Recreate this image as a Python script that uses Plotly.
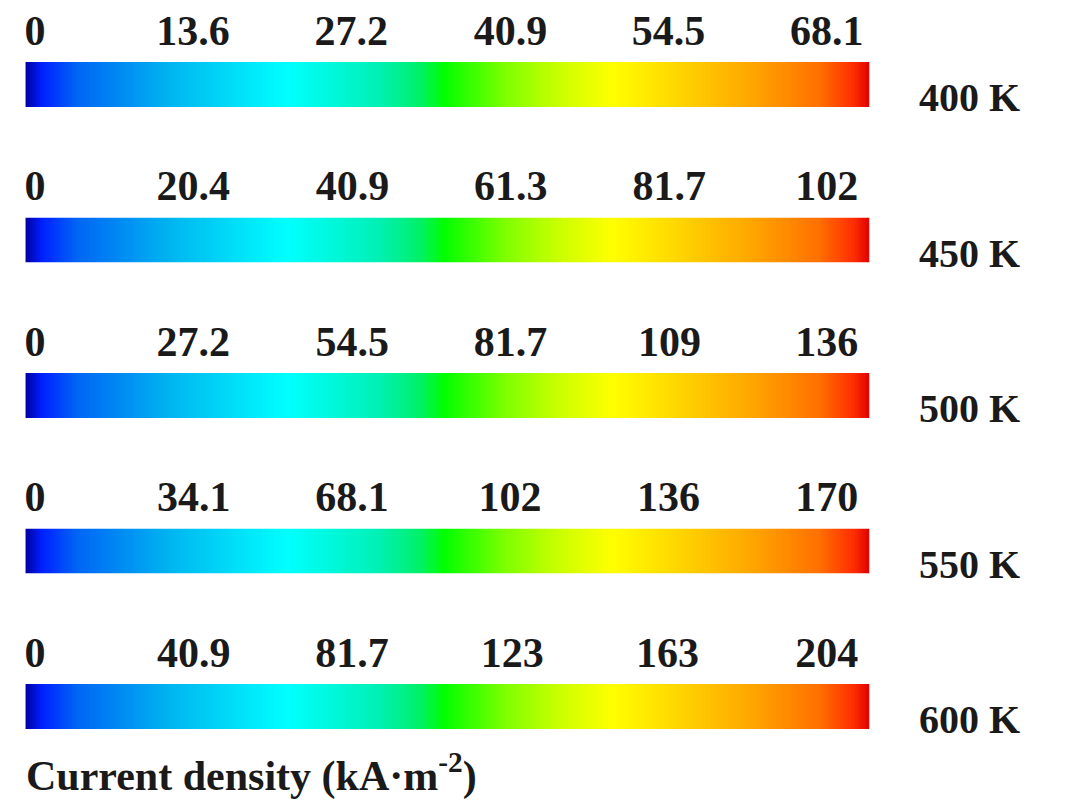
import plotly.graph_objects as go

# Current-density colour scales at five operating temperatures
temperatures = ["400 K", "450 K", "500 K", "550 K", "600 K"]
max_density = [68.1, 102, 136, 170, 204]  # kA·m^-2, top of each scale
tick_values = [
    [0, 13.6, 27.2, 40.9, 54.5, 68.1],
    [0, 20.4, 40.9, 61.3, 81.7, 102],
    [0, 27.2, 54.5, 81.7, 109, 136],
    [0, 34.1, 68.1, 102, 136, 170],
    [0, 40.9, 81.7, 123, 163, 204],
]
tick_text = [["%g" % v for v in row] for row in tick_values]

# Rainbow map: navy -> blue -> cyan -> green -> yellow -> orange -> red
rainbow = [
    [0.00, "#0000a0"],
    [0.02, "#0020ff"],
    [0.06, "#0064f5"],
    [0.17, "#00b4f0"],
    [0.31, "#00ffff"],
    [0.42, "#00f0b4"],
    [0.47, "#00f064"],
    [0.495, "#00ff00"],
    [0.57, "#80ff00"],
    [0.63, "#c8ff00"],
    [0.695, "#ffff00"],
    [0.78, "#ffd200"],
    [0.87, "#ffa000"],
    [0.94, "#ff7000"],
    [0.98, "#ff3000"],
    [1.00, "#e00000"],
]

W, H = 1072, 803
BAR_LEFT, BAR_RIGHT = 15, 899
ROW_TOP0, ROW_STEP, BAR_H = 62, 155.5, 45
LABEL_LEFT, LABEL_RIGHT = 25, 854
RAMP_STEPS = 400  # cells used to paint each colour bar
FONT = "Liberation Serif"
INK = "#1a1a1a"


def suffix(k):
    return "" if k == 1 else str(k)


fig = go.Figure()
layout = {}
n = len(temperatures)

for i, (temp, vmax) in enumerate(zip(temperatures, max_density)):
    top = ROW_TOP0 + ROW_STEP * i
    s = suffix(i + 1)       # bar axes
    t = suffix(i + 1 + n)   # tick-label axis

    # colour bar: cells from 0 up to the scale maximum, coloured by value
    edges = [vmax * k / RAMP_STEPS for k in range(RAMP_STEPS + 1)]
    centres = [(a + b) / 2 for a, b in zip(edges[:-1], edges[1:])]
    fig.add_trace(go.Heatmap(
        z=[centres], x=edges, y=[0, 1],
        zmin=0, zmax=vmax, colorscale=rainbow,
        showscale=False, hoverinfo="skip",
        xaxis=f"x{s}", yaxis=f"y{s}",
    ))
    # invisible carrier so the tick-label axis is drawn
    fig.add_trace(go.Scatter(
        x=[0, vmax], y=[0.5, 0.5], mode="markers",
        marker=dict(opacity=0), hoverinfo="skip", showlegend=False,
        xaxis=f"x{t}", yaxis=f"y{s}",
    ))

    layout[f"xaxis{s}"] = dict(
        domain=[BAR_LEFT / W, BAR_RIGHT / W], range=[0, vmax],
        visible=False, fixedrange=True, anchor=f"y{s}",
    )
    layout[f"yaxis{s}"] = dict(
        domain=[1 - (top + BAR_H) / H, 1 - top / H], range=[0, 1],
        visible=False, fixedrange=True, anchor=f"x{s}",
    )
    # scale values printed above the bar
    layout[f"xaxis{t}"] = dict(
        domain=[LABEL_LEFT / W, LABEL_RIGHT / W], range=[0, vmax],
        anchor="free", position=1 - (top - 9) / H, side="top",
        tickmode="array", tickvals=tick_values[i], ticktext=tick_text[i],
        ticks="", showline=False, showgrid=False, zeroline=False,
        fixedrange=True,
        tickfont=dict(family=FONT, size=42, color=INK, weight="bold"),
    )

annotations = []
for i, temp in enumerate(temperatures):
    annotations.append(dict(
        text=f"<b>{temp}</b>", xref="paper", x=948 / W, xanchor="left",
        yref=f"y{suffix(i + 1)} domain", y=0.21, yanchor="middle",
        showarrow=False, font=dict(family=FONT, size=40, color=INK),
    ))
annotations.append(dict(
    text="<b>Current density (kA·m<sup>-2</sup>)</b>",
    xref="paper", x=14 / W, xanchor="left",
    yref="paper", y=1 - 773 / H, yanchor="middle", showarrow=False,
    font=dict(family=FONT, size=42, color=INK),
))

# transparent plot areas so the label subplots do not cover the bars
fig.update_layout(
    width=W, height=H, margin=dict(l=0, r=0, t=0, b=0),
    paper_bgcolor="white", plot_bgcolor="rgba(0,0,0,0)",
    showlegend=False, annotations=annotations, **layout,
)

fig.write_html("out.html", config={"displayModeBar": False})
